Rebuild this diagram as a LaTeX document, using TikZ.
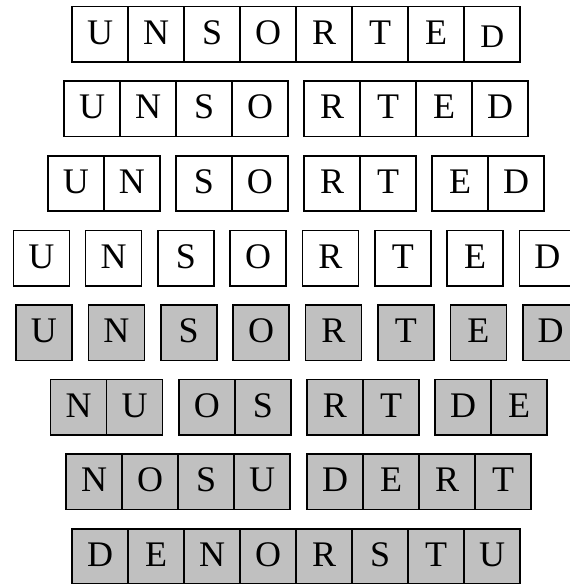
\documentclass[tikz,border=0pt]{standalone}
\usepackage{fontspec}
\setmainfont{Liberation Serif}
\usepackage{xcolor}

\definecolor{mergegray}{HTML}{C0C0C0}

\tikzset{
  cell/.style={draw, line width=1.6pt, minimum width=56pt, minimum height=55.5pt,
    inner sep=0pt, text height=24pt, text depth=4pt,
    font=\fontsize{36}{42}\selectfont},
  sorted/.style={cell, fill=mergegray}
}

\begin{document}
\begin{tikzpicture}[x=1pt,y=-1pt]
\useasboundingbox (0,0) rectangle (570,584);

% --------------------------------------------------
% Split phase: white cells
% --------------------------------------------------
\foreach \l [count=\i] in {U,N,S,O,R,T,E}
    \node[cell] (a\i) at (100.2+56*\i-56,34.3) {\l};
\node[cell] (a8) at (492.2,34.3) {\raisebox{-3pt}{\fontsize{33}{40}\selectfont D}};

\foreach \x/\l [count=\i] in {92.1/U,148.1/N,204.1/S,260.1/O,
                              332.2/R,388.2/T,444.2/E,500.2/D}
    \node[cell] (b\i) at (\x,108.9) {\l};

\foreach \x/\l [count=\i] in {75.9/U,131.9/N,203.9/S,259.9/O,
                              332.2/R,388.2/T,460.2/E,516.2/D}
    \node[cell] (c\i) at (\x,183.5) {\l};

\foreach \l [count=\i] in {U,N,S,O,R,T,E,D}
    \node[cell] (d\i) at (41.3+72.3*\i-72.3,258.1) {\l};

% --------------------------------------------------
% Merge phase: grey cells
% --------------------------------------------------
\foreach \l [count=\i] in {U,N,S,O,R,T,E,D}
    \node[sorted] (e\i) at (43.9+72.4*\i-72.4,332.7) {\l};

\foreach \x/\l [count=\i] in {78.6/N,134.6/U,206.8/O,262.8/S,
                              335/R,391/T,463.2/D,519.2/E}
    \node[sorted] (f\i) at (\x,407.3) {\l};

\foreach \x/\l [count=\i] in {94.1/N,150.1/O,206.1/S,262.1/U,
                              335.1/D,391.1/E,447.1/R,503.1/T}
    \node[sorted] (g\i) at (\x,481.9) {\l};

\foreach \l [count=\i] in {D,E,N,O,R,S,T,U}
    \node[sorted] (h\i) at (100.2+56*\i-56,556.5) {\l};

\end{tikzpicture}
\end{document}
